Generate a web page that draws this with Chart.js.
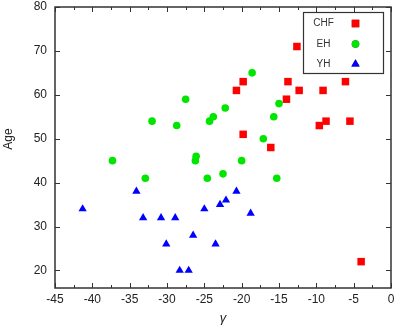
<!DOCTYPE html>
<html>
<head>
<meta charset="utf-8">
<script src="https://cdn.jsdelivr.net/npm/chart.js@4.4.0/dist/chart.umd.min.js"></script>
<style>
  html, body { margin: 0; padding: 0; background: #fff; }
  #wrap { width: 397px; height: 332px; }
</style>
</head>
<body>
<div id="wrap"><canvas id="ageChart" width="397" height="332"></canvas></div>
<script>
// Datos (gamma, edad)
const chfGamma = [-20.7, -19.8, -12.6, -13.8, -12.3, -14.0, -9.1, -6.1, -9.6, -8.7, -5.5, -19.8, -16.1, -4.0];
const chfAge   = [61, 63, 71, 63, 61, 59, 61, 63, 53, 54, 54, 51, 48, 22];

const ehGamma = [-37.3, -32.9, -32.0, -28.7, -27.5, -26.1, -26.2, -24.6, -24.3, -23.8, -22.5, -22.2, -20.0, -18.6, -17.1, -15.7, -15.3, -15.0];
const ehAge   = [45, 41, 54, 53, 59, 46, 45, 41, 54, 55, 42, 57, 45, 65, 50, 55, 41, 58];

const yhGamma = [-41.3, -34.1, -33.2, -30.8, -28.9, -30.1, -28.3, -27.1, -26.5, -25.0, -23.5, -22.9, -22.1, -20.7, -18.8];
const yhAge   = [34, 38, 32, 32, 32, 26, 20, 20, 28, 34, 26, 35, 36, 38, 33];

const seriesNames = ['CHF', 'EH', 'YH'];
const xTicks = [-45, -40, -35, -30, -25, -20, -15, -10, -5, 0];
const yTicks = [20, 30, 40, 50, 60, 70, 80];

function toPoints(xs, ys) {
    return xs.map((x, i) => ({ x: x, y: ys[i] }));
}

const FONT = 'Liberation Sans, Arial, sans-serif';
const FRAME = '#333333';

// Marco con marcas hacia dentro en los cuatro lados
const framePlugin = {
    id: 'frame',
    beforeDatasetsDraw(chart) {
        const { ctx, chartArea: a, scales } = chart;
        ctx.save();
        ctx.strokeStyle = FRAME;
        ctx.lineWidth = 1.5;
        ctx.strokeRect(a.left, a.top, a.right - a.left, a.bottom - a.top);
        ctx.lineWidth = 1;
        ctx.beginPath();
        for (let v = -45; v <= 0; v += 2.5) {
            const px = Math.round(scales.x.getPixelForValue(v)) + 0.5;
            const len = (v % 5 === 0) ? 5 : 3;
            ctx.moveTo(px, a.bottom); ctx.lineTo(px, a.bottom - len);
            ctx.moveTo(px, a.top); ctx.lineTo(px, a.top + len);
        }
        yTicks.forEach(v => {
            const py = Math.round(scales.y.getPixelForValue(v)) + 0.5;
            ctx.moveTo(a.left, py); ctx.lineTo(a.left + 5, py);
            ctx.moveTo(a.right, py); ctx.lineTo(a.right - 5, py);
        });
        ctx.stroke();

        // Título del eje Y
        ctx.fillStyle = '#222';
        ctx.font = '12px ' + FONT;
        ctx.textAlign = 'center';
        ctx.textBaseline = 'middle';
        ctx.translate(9, 139);
        ctx.rotate(-Math.PI / 2);
        ctx.fillText('Age', 0, 0);
        ctx.restore();
    }
};

// Leyenda en recuadro: texto a la izquierda, símbolo a la derecha
const legendPlugin = {
    id: 'boxLegend',
    afterDatasetsDraw(chart) {
        const ctx = chart.ctx;
        ctx.save();
        ctx.fillStyle = '#fff';
        ctx.fillRect(303, 12, 80, 62);
        ctx.strokeStyle = FRAME;
        ctx.lineWidth = 1.2;
        ctx.strokeRect(303.5, 12.5, 80, 61);
        ctx.font = '10px ' + FONT;
        ctx.textAlign = 'center';
        ctx.textBaseline = 'middle';
        const rows = [23.5, 44, 64];
        chart.data.datasets.forEach((ds, i) => {
            const y = rows[i];
            ctx.fillStyle = '#333';
            ctx.fillText(ds.label, 323.5, y);
            Chart.helpers.drawPoint(ctx, {
                pointStyle: ds.pointStyle,
                radius: ds.pointRadius,
                rotation: 0,
                borderWidth: 0
            }, 355.5, y);
            ctx.fillStyle = ds.backgroundColor;
            ctx.fill();
        });
        ctx.restore();
    }
};

const ctx = document.getElementById('ageChart');

new Chart(ctx, {
    type: 'scatter',
    data: {
        datasets: [
            {
                label: seriesNames[0],
                data: toPoints(chfGamma, chfAge),
                pointStyle: 'rect',
                pointRadius: 5.3,
                backgroundColor: '#ff0000',
                borderWidth: 0
            },
            {
                label: seriesNames[1],
                data: toPoints(ehGamma, ehAge),
                pointStyle: 'circle',
                pointRadius: 3.8,
                backgroundColor: '#00e600',
                borderWidth: 0
            },
            {
                label: seriesNames[2],
                data: toPoints(yhGamma, yhAge),
                pointStyle: 'triangle',
                pointRadius: 4.8,
                backgroundColor: '#0000ff',
                borderWidth: 0
            }
        ]
    },
    options: {
        responsive: false,
        animation: false,
        devicePixelRatio: 1,
        layout: { padding: { top: 7, right: 6, left: 0, bottom: 0 } },
        plugins: {
            legend: { display: false },
            tooltip: { enabled: false }
        },
        scales: {
            x: {
                type: 'linear',
                min: -45,
                max: 0,
                afterBuildTicks: s => { s.ticks = xTicks.map(v => ({ value: v })); },
                afterFit: s => { s.height = 44; s.paddingLeft = 0; s.paddingRight = 0; },
                grid: { display: false, drawTicks: false },
                border: { display: false },
                ticks: {
                    color: '#222',
                    font: { family: FONT, size: 12 },
                    padding: 4,
                    maxRotation: 0
                },
                title: {
                    display: true,
                    text: 'γ',
                    color: '#222',
                    font: { family: FONT, size: 13, style: 'italic' },
                    padding: { top: 0, bottom: 6 }
                }
            },
            y: {
                type: 'linear',
                min: 16,
                max: 80,
                afterBuildTicks: s => { s.ticks = yTicks.map(v => ({ value: v })); },
                afterFit: s => { s.width = 55; s.paddingTop = 0; s.paddingBottom = 0; },
                grid: { display: false, drawTicks: false },
                border: { display: false },
                ticks: {
                    color: '#222',
                    font: { family: FONT, size: 12 },
                    padding: 8
                },
                title: { display: false }
            }
        }
    },
    plugins: [framePlugin, legendPlugin]
});
</script>
</body>
</html>
